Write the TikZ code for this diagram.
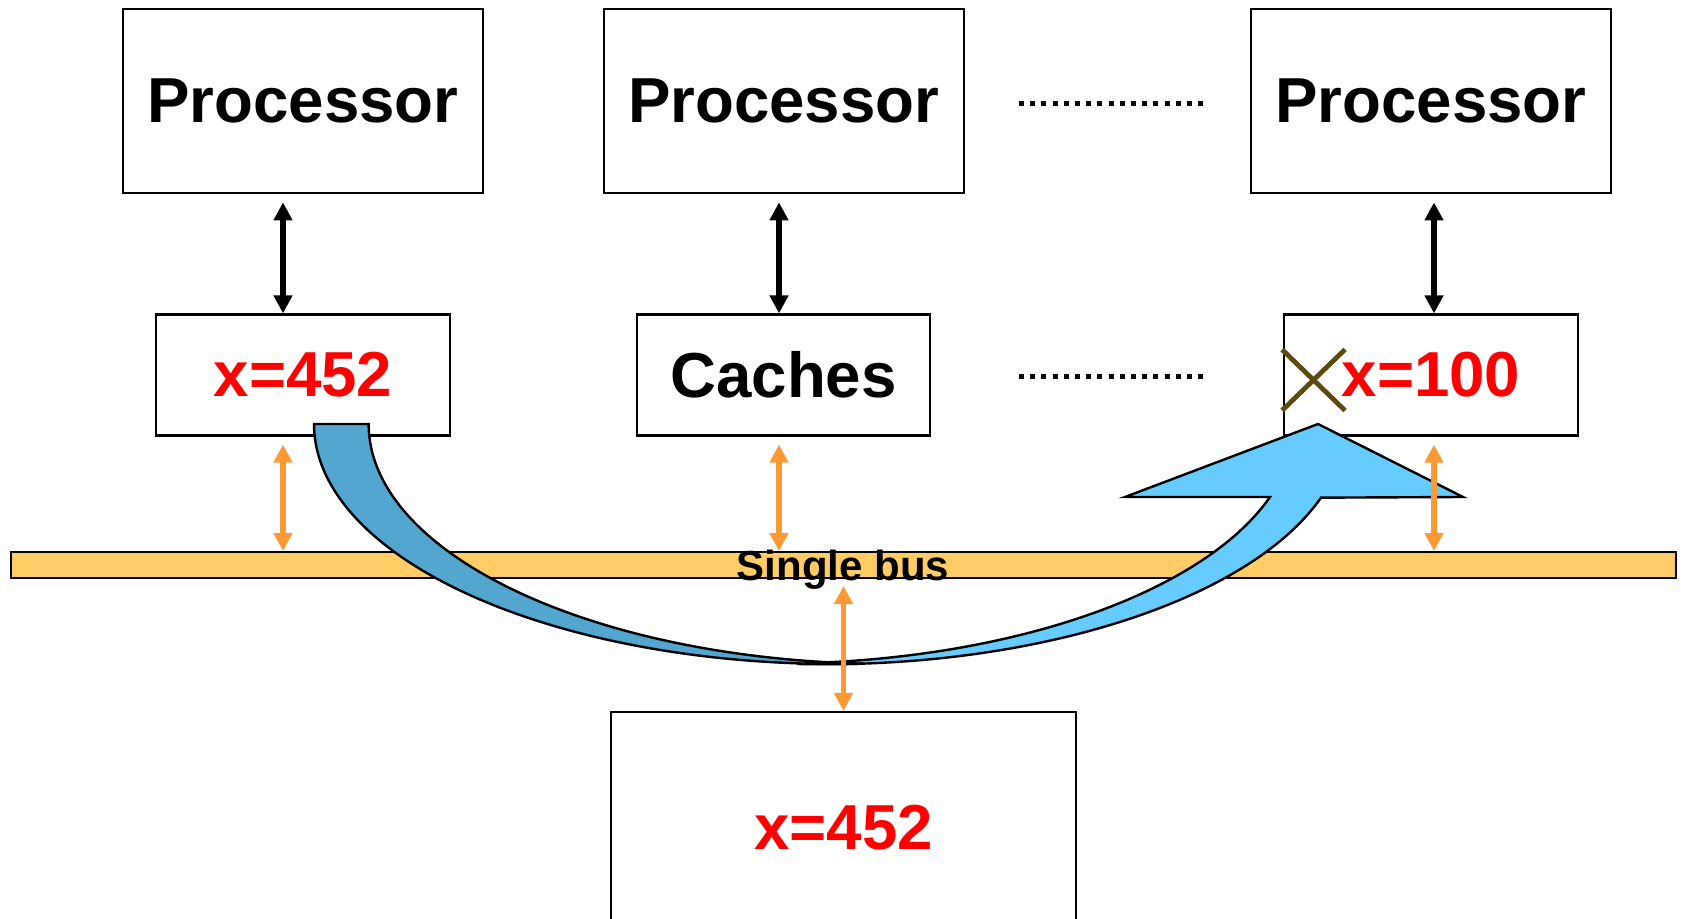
\documentclass[tikz,border=0pt]{standalone}
\usepackage{fontspec}
\setmainfont{Liberation Sans}
\usepackage{xcolor}
\usepackage{tikz}
\usetikzlibrary{arrows.meta, positioning}

\definecolor{busyellow}{HTML}{FFCC66}
\definecolor{busorange}{HTML}{FF9933}
\definecolor{arrowdark}{HTML}{52A6D0}
\definecolor{arrowlight}{HTML}{66CCFF}
\definecolor{crossbrown}{HTML}{5C4A0E}

\begin{document}
\begin{tikzpicture}[
    x=0.5pt, y=-0.5pt,
    box/.style={draw, line width=1.1pt, inner sep=0pt, font=\fontsize{31.8}{38}\selectfont\bfseries},
    procbox/.style={box, minimum width=180pt, minimum height=92.3pt},
    cachebox/.style={box, minimum width=146.75pt, minimum height=60.5pt},
    membox/.style={box, minimum width=232.5pt, minimum height=116pt},
    busbar/.style={draw, fill=busyellow, line width=1pt, minimum width=832.4pt, minimum height=13pt, inner sep=0pt},
    buslabel/.style={inner sep=0pt, font=\fontsize{21}{25}\selectfont\bfseries},
    procarrow/.style={line width=2.7pt, <->, >={Triangle[width=9pt,length=9pt]}},
    busarrow/.style={procarrow, draw=busorange, fill=busorange},
    bigarrow/.style={draw=black, line width=1.2pt},
    dotline/.style={line width=2.5pt, dash pattern=on 2.5pt off 3.1pt},
    crossline/.style={draw=crossbrown, line width=2.4pt}
]
\useasboundingbox (0,0) rectangle (1681,919);

% Processors
\node[procbox] (proc1) at (303,101) {Processor};
\node[procbox] (proc2) at (783.6,101) {Processor};
\node[procbox] (proc3) at (1431,101) {Processor};

% Caches
\node[cachebox, below=59.5pt of proc1] (cache1) {\textcolor{red}{x=452}};
\node[cachebox, below=59.5pt of proc2] (cache2) {Caches};
\node[cachebox, below=59.5pt of proc3] (cache3) {\textcolor{red}{x=100}};

% Bus and memory
\node[busbar] (bus) at (843.1,565) {};
\node[membox] (mem) at (843.5,828) {\textcolor{red}{x=452}};

% Dots between the columns
\draw[dotline] (1019,104) -- (1206,104);
\draw[dotline] (1019,377) -- (1206,377);

% Big curved arrow (value written back)
\filldraw[bigarrow, fill=arrowlight] (798.5,664)
    arc[start angle=92.8, end angle=17.8, x radius=522, y radius=240]
    -- (1463,497) -- (1318,424) -- (1125,497) -- (1270,497)
    arc[start angle=17.8, end angle=87.2, x radius=522, y radius=240] -- cycle;
\filldraw[bigarrow, fill=arrowdark] (314,424)
    arc[start angle=180, end angle=87, x radius=522, y radius=240]
    arc[start angle=93, end angle=180, x radius=522, y radius=240] -- cycle;

% Column positions
\coordinate (c1) at (283,0);
\coordinate (c2) at (779,0);
\coordinate (c3) at (1434,0);

% Connections
\draw[procarrow] ([yshift=-4pt]proc1.south -| c1) -- (cache1.north -| c1);
\draw[procarrow] ([yshift=-4pt]proc2.south -| c2) -- (cache2.north -| c2);
\draw[procarrow] ([yshift=-4pt]proc3.south -| c3) -- (cache3.north -| c3);
\draw[busarrow] ([yshift=-4pt]cache1.south -| c1) -- (bus.north -| c1);
\draw[busarrow] ([yshift=-4pt]cache2.south -| c2) -- (bus.north -| c2);
\draw[busarrow] ([yshift=-4pt]cache3.south -| c3) -- (bus.north -| c3);
\draw[busarrow] ([yshift=-3.5pt]bus.south -| mem) -- (mem.north);

\node[buslabel, anchor=base] (buslbl) at ([yshift=-7.5pt]bus.center) {Single bus};

% Invalidated value
\coordinate (xmark) at ([xshift=-58.75pt,yshift=-2.5pt]cache3.center);
\draw[crossline] (xmark) ++(-15.75pt,15.25pt) -- ++(31.5pt,-30.5pt);
\draw[crossline] (xmark) ++(15.75pt,15.25pt) -- ++(-31.5pt,-30.5pt);

\end{tikzpicture}
\end{document}
